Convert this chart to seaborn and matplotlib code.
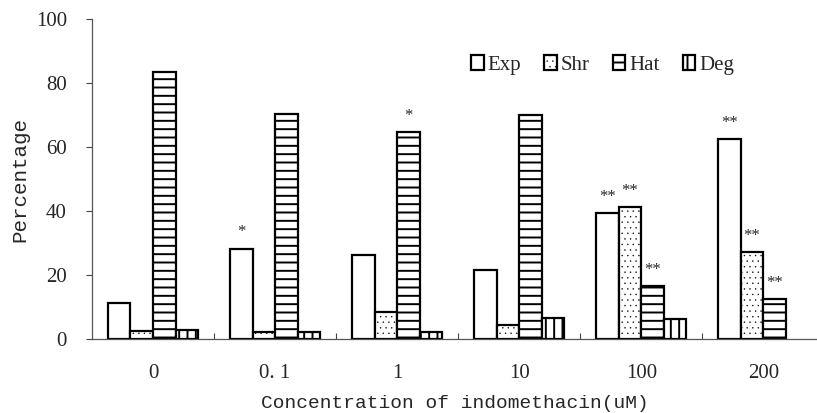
import matplotlib
matplotlib.use("Agg")
import matplotlib.pyplot as plt
import seaborn as sns
import pandas as pd
import numpy as np
from matplotlib.patches import Patch

concentrations = ["0", "0. 1", "1", "10", "100", "200"]
series = ["Exp", "Shr", "Hat", "Deg"]
exp_vals = [11.3, 28.2, 26.3, 21.6, 39.4, 62.4]
shr_vals = [2.6, 2.3, 8.3, 4.4, 41.2, 27.1]
hat_vals = [83.5, 70.3, 64.6, 70.0, 16.6, 12.4]
deg_vals = [2.8, 2.1, 2.3, 6.7, 6.3, 0.0]
# significance marks: (concentration index, series name, text)
marks = [(1, "Exp", "*"), (2, "Hat", "*"),
         (4, "Exp", "**"), (4, "Shr", "**"), (4, "Hat", "**"),
         (5, "Exp", "**"), (5, "Shr", "**"), (5, "Hat", "**")]

values = {"Exp": exp_vals, "Shr": shr_vals, "Hat": hat_vals, "Deg": deg_vals}
rows = []
for s in series:
    for c, v in zip(concentrations, values[s]):
        rows.append({"conc": c, "series": s, "value": v})
df = pd.DataFrame(rows)

sns.set_theme(style="white")
plt.rcParams["font.family"] = ["Liberation Serif", "DejaVu Serif"]
plt.rcParams["hatch.linewidth"] = 1.4

fig = plt.figure(figsize=(8.17, 4.13), dpi=100)
ax = fig.add_axes([92 / 817, 74 / 413, 725 / 817, 320 / 413])

sns.barplot(data=df, x="conc", y="value", hue="series", order=concentrations,
            hue_order=series, width=0.74, gap=0, palette=["white"] * 4,
            edgecolor="black", linewidth=1.6, ax=ax, legend=False)

hatches = {"Exp": "", "Shr": "...", "Hat": "--", "Deg": "||"}
hatch_lw = {"Exp": 1.4, "Shr": 0.25, "Hat": 1.4, "Deg": 1.4}


def style_patch(p, s):
    p.set_hatch(hatches[s])
    p.set_facecolor("white")
    p.set_edgecolor("black")
    if hasattr(p, "set_hatch_linewidth"):
        p.set_hatch_linewidth(hatch_lw[s])


for cont, s in zip(ax.containers, series):
    for p in cont.patches:
        style_patch(p, s)
        if p.get_height() == 0:
            p.set_linewidth(0)

for ci, s, t in marks:
    cont = ax.containers[series.index(s)]
    p = cont.patches[ci]
    ax.annotate(t, (p.get_x() + p.get_width() / 2, p.get_height()),
                xytext=(0, 6), textcoords="offset points", ha="center",
                va="bottom", fontsize=12)

ax.set_xlim(-0.5, 5.44)
ax.set_ylim(0, 100)
ax.set_yticks([0, 20, 40, 60, 80, 100])
ax.tick_params(axis="y", which="major", direction="out", length=4, width=0.8,
               labelsize=15, pad=14, left=True, color="#444444")
ax.set_xticks(range(len(concentrations)))
ax.set_xticklabels(concentrations)
ax.tick_params(axis="x", which="major", length=0, labelsize=15, pad=18)
ax.set_xticks(np.arange(0.5, 5.0, 1.0), minor=True)
ax.tick_params(axis="x", which="minor", direction="in", length=4, width=0.8,
               bottom=True, color="#444444")

for side in ["top", "right"]:
    ax.spines[side].set_visible(False)
ax.spines["left"].set_color("#555555")
ax.spines["left"].set_linewidth(0.9)
ax.spines["bottom"].set_color("#555555")
ax.spines["bottom"].set_linewidth(0.9)

ax.set_xlabel("Concentration of indomethacin(uM)", fontsize=14,
              family=["Liberation Mono", "DejaVu Sans Mono"], labelpad=9)
ax.set_ylabel("Percentage", fontsize=15,
              family=["Liberation Mono", "DejaVu Sans Mono"], labelpad=5)

handles = []
for s in series:
    h = Patch(facecolor="white", edgecolor="black", hatch=hatches[s],
              linewidth=1.6, label=s)
    handles.append(h)
leg = ax.legend(handles=handles, ncol=4, frameon=False, loc="upper right",
                bbox_to_anchor=(0.912, 0.945), handlelength=0.6, handleheight=0.7,
                handletextpad=0.2, columnspacing=1.1,
                prop={"family": ["Liberation Serif", "DejaVu Serif"], "size": 15})
for lh, s in zip(leg.legend_handles, series):
    if hasattr(lh, "set_hatch_linewidth"):
        lh.set_hatch_linewidth(hatch_lw[s])

fig.savefig("out.png", dpi=100)
